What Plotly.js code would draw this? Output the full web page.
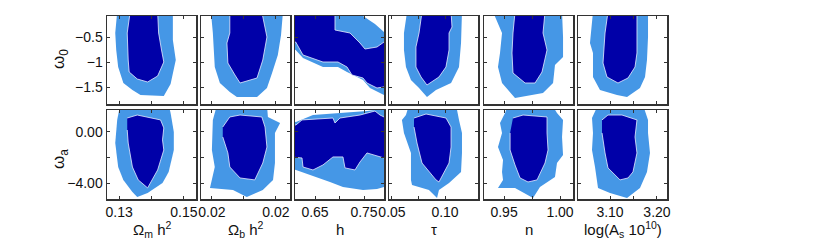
<!DOCTYPE html>
<html>
<head>
<meta charset="utf-8">
<script src="https://cdn.plot.ly/plotly-3.0.1.min.js"></script>
<style>html,body{margin:0;padding:0;background:#fff;}#chart{width:822px;height:252px;}</style>
</head>
<body>
<div id="chart"></div>
<script>
// ---------- axis labels & ticks ----------
const xTitles = ['Ω<sub>m</sub> h<sup>2</sup>', 'Ω<sub>b</sub> h<sup>2</sup>', 'h', 'τ', 'n', 'log(A<sub>s</sub> 10<sup>10</sup>)'];
const yTitles = ['ω<sub>0</sub>', 'ω<sub>a</sub>'];
const xRanges = [[0.12625, 0.15375], [0.02066, 0.02344], [0.6092, 0.7908], [0.0472, 0.1311], [0.9321, 1.0116], [3.0319, 3.2213]];
const xTickVals = [[0.13, 0.14, 0.15], [0.021, 0.022, 0.023], [0.65, 0.70, 0.75], [0.05, 0.075, 0.10], [0.95, 0.975, 1.00], [3.10, 3.15, 3.20]];
const xTickText = [['0.13', '', '0.15'], ['0.02', '', '0.02'], ['0.65', '', '0.75'], ['0.05', '', '0.10'], ['0.95', '', '1.00'], ['3.10', '', '3.20']];
const yRanges = [[-1.84, -0.08], [-5.22, 1.68]];
const yTickVals = [[-1.5, -1, -0.5], [-4, -2, 0]];
const yTickText = [['\u22121.5', '\u22121', '\u22120.5'], ['\u22124.00', '', '0.00']];

// ---------- 95% (outer) and 68% (inner) regions, row 1: omega_0 ----------
const omh2_w0_95_x = [0.1294,0.1288,0.1291,0.1297,0.1313,0.1341,0.1366,0.1438,0.1459,0.1469,0.1475,0.1466,0.1466];
const omh2_w0_95_y = [0.00,-0.42,-0.76,-1.10,-1.42,-1.56,-1.66,-1.68,-1.44,-1.16,-0.96,-0.56,0.00];
const omh2_w0_68_x = [0.1334,0.1325,0.1328,0.1331,0.1356,0.1388,0.1419,0.1438,0.1431,0.1422,0.1419];
const omh2_w0_68_y = [0.00,-0.42,-0.96,-1.20,-1.34,-1.40,-1.28,-1.00,-0.76,-0.42,0.00];

const obh2_w0_95_x = [0.02097,0.02103,0.02109,0.02125,0.02156,0.02178,0.02241,0.02272,0.02288,0.02306,0.02316,0.02322];
const obh2_w0_95_y = [0.00,-0.42,-1.10,-1.42,-1.60,-1.70,-1.70,-1.52,-1.22,-0.86,-0.46,0.00];
const obh2_w0_68_x = [0.02156,0.02156,0.02147,0.0215,0.02172,0.02188,0.02241,0.02259,0.02272,0.02266,0.02256];
const obh2_w0_68_y = [0.00,-0.42,-0.62,-1.02,-1.26,-1.42,-1.32,-0.96,-0.50,-0.30,0.00];

const h_w0_95_x = [0.599,0.599,0.6106,0.6255,0.6663,0.6969,0.7153,0.7480,0.7622,0.7908,0.8031,0.8031,0.7908,0.7724,0.7480,0.7418];
const h_w0_95_y = [0.04,-0.72,-0.76,-0.92,-1.10,-1.10,-1.20,-1.36,-1.52,-1.66,-1.70,-0.46,-0.40,-0.24,-0.08,0.04];
const h_w0_68_x = [0.599,0.599,0.6106,0.6255,0.6663,0.6969,0.7153,0.7255,0.7480,0.7561,0.7765,0.7908,0.8031,0.8031,0.7908,0.7765,0.7520,0.7418,0.7214,0.6908,0.6908];
const h_w0_68_y = [0.04,-0.60,-0.60,-0.86,-1.00,-1.00,-1.10,-1.26,-1.32,-1.42,-1.52,-1.50,-1.48,-0.56,-0.60,-0.70,-0.74,-0.62,-0.42,-0.36,0.04];

const tau_w0_95_x = [0.0642,0.0613,0.0613,0.0632,0.0679,0.0755,0.0830,0.0915,0.1057,0.1132,0.1151,0.1160];
const tau_w0_95_y = [0.00,-0.42,-0.76,-1.10,-1.36,-1.52,-1.70,-1.56,-1.42,-1.10,-0.62,0.00];
const tau_w0_68_x = [0.0783,0.0755,0.0726,0.0726,0.0774,0.0830,0.0943,0.1009,0.1038,0.1038,0.1066,0.1057];
const tau_w0_68_y = [0.00,-0.42,-0.70,-1.10,-1.30,-1.46,-1.30,-1.10,-0.76,-0.42,-0.30,0.00];

const n_w0_95_x = [0.9402,0.9482,0.9464,0.9446,0.9482,0.9554,0.9598,0.9848,0.9938,0.9955,1.0027,1.0027,1.0018];
const n_w0_95_y = [0.00,-0.42,-0.82,-1.10,-1.42,-1.62,-1.72,-1.62,-1.42,-1.06,-0.90,-0.50,0.00];
const n_w0_68_x = [0.9598,0.9580,0.9571,0.9580,0.9688,0.9777,0.9839,0.9884,0.9848,0.9866];
const n_w0_68_y = [0.00,-0.42,-0.82,-1.22,-1.42,-1.42,-1.20,-0.76,-0.42,0.00];

const as_w0_95_x = [3.0638,3.0574,3.0638,3.0638,3.0787,3.1149,3.1362,3.1638,3.1745,3.1787,3.1809,3.1809];
const as_w0_95_y = [0.00,-0.62,-0.82,-1.30,-1.56,-1.66,-1.70,-1.52,-1.30,-0.96,-0.50,0.00];
const as_w0_68_x = [3.0957,3.0894,3.0851,3.0936,3.1170,3.1383,3.1532,3.1574,3.1574,3.1574];
const as_w0_68_y = [0.00,-0.42,-1.02,-1.30,-1.42,-1.32,-1.10,-0.82,-0.42,0.00];

// ---------- row 2: omega_a ----------
const omh2_wa_95_x = [0.1303,0.1294,0.1288,0.1297,0.1313,0.1341,0.1356,0.1388,0.1434,0.1453,0.1469,0.1469,0.1459,0.1453];
const omh2_wa_95_y = [2.07,0.91,-0.88,-2.74,-3.74,-4.67,-5.06,-4.75,-3.98,-3.12,-1.42,-0.02,1.45,2.07];
const omh2_wa_68_x = [0.1325,0.1356,0.1428,0.1438,0.1434,0.1438,0.1419,0.1388,0.1359,0.1341,0.1328,0.1325];
const omh2_wa_68_y = [1.06,1.29,0.91,0.29,-0.64,-1.42,-2.97,-4.36,-3.74,-2.74,-0.88,0.13];

const obh2_wa_95_x = [0.02116,0.02103,0.02100,0.02109,0.02094,0.02166,0.02209,0.02259,0.02291,0.02297,0.02297,0.02313,0.02275,0.02272];
const obh2_wa_95_y = [2.07,0.91,-1.42,-2.74,-4.36,-4.52,-5.06,-4.52,-3.74,-2.43,-0.10,0.67,1.14,2.07];
const obh2_wa_68_x = [0.02134,0.02156,0.02188,0.02256,0.02266,0.02272,0.02259,0.02234,0.02188,0.02156,0.0215,0.02134];
const obh2_wa_68_y = [0.36,1.14,1.29,1.14,0.36,-1.19,-2.43,-3.74,-3.59,-2.74,-1.65,-0.41];

const h_wa_95_x = [0.599,0.6112,0.6459,0.7153,0.7561,0.7908,0.8031,0.8031,0.7908,0.7765,0.7480,0.7071,0.6806,0.6112,0.599];
const h_wa_95_y = [0.83,0.75,1.29,1.45,1.60,1.76,1.91,-4.29,-4.29,-4.44,-4.52,-4.29,-3.90,-2.97,-2.81];
const h_wa_68_x = [0.599,0.6112,0.6235,0.6867,0.6908,0.7010,0.7418,0.7724,0.7827,0.7908,0.8031,0.8031,0.7908,0.7561,0.7418,0.7316,0.7112,0.7071,0.6867,0.6663,0.6459,0.6255,0.6235,0.6112,0.599];
const h_wa_68_y = [0.52,0.52,0.91,1.06,0.67,1.06,1.29,1.60,1.29,1.14,1.14,-2.04,-2.04,-1.65,-2.35,-2.97,-2.81,-1.96,-1.96,-2.58,-2.97,-2.74,-2.04,-1.96,-1.96];

const tau_wa_95_x = [0.0660,0.0632,0.0594,0.0613,0.0679,0.0679,0.0689,0.0849,0.0925,0.0943,0.1038,0.1151,0.1160,0.1160,0.1132,0.1113,0.1104];
const tau_wa_95_y = [2.07,1.29,0.91,-0.10,-1.65,-3.74,-4.13,-4.52,-5.14,-4.52,-3.98,-3.12,-1.65,-0.10,0.91,1.53,2.07];
const tau_wa_68_x = [0.0708,0.0821,0.1009,0.1057,0.1057,0.1038,0.0943,0.0915,0.0783,0.0736,0.0708];
const tau_wa_68_y = [1.06,1.37,1.06,0.36,-1.19,-2.43,-3.90,-3.74,-2.43,-0.88,0.36];

const n_wa_95_x = [0.9536,0.9509,0.9464,0.9482,0.9446,0.9491,0.9482,0.9491,0.9446,0.9598,0.9759,0.9821,0.9955,0.9973,1.0027,1.0018,1.0027,0.9973,0.9929];
const n_wa_95_y = [2.07,1.45,0.67,-0.10,-1.19,-2.19,-3.12,-3.74,-4.36,-4.36,-5.14,-4.29,-3.51,-2.43,-1.81,-0.41,0.91,1.45,2.07];
const n_wa_68_x = [0.9580,0.9670,0.9884,0.9884,0.9893,0.9866,0.9795,0.9714,0.9643,0.9598,0.9554,0.9554];
const n_wa_68_y = [1.06,1.29,1.14,-0.10,-1.42,-2.43,-3.74,-3.90,-3.59,-2.58,-1.42,-0.10];

const as_wa_95_x = [3.0745,3.0617,3.0638,3.0617,3.0681,3.0745,3.1000,3.1362,3.1638,3.1787,3.1851,3.1809,3.1809,3.1702];
const as_wa_95_y = [2.07,1.06,-0.10,-1.42,-2.74,-4.36,-4.75,-5.14,-4.36,-3.12,-1.65,-0.10,0.91,2.07];
const as_wa_68_x = [3.0830,3.0957,3.1255,3.1574,3.1532,3.1574,3.1489,3.1383,3.1213,3.0957,3.0894,3.0830];
const as_wa_68_y = [0.91,1.29,1.29,0.91,-0.41,-1.65,-3.12,-3.59,-3.74,-2.81,-1.65,-0.10];

const regions = [
  [[omh2_w0_95_x, omh2_w0_95_y, omh2_w0_68_x, omh2_w0_68_y],
   [obh2_w0_95_x, obh2_w0_95_y, obh2_w0_68_x, obh2_w0_68_y],
   [h_w0_95_x, h_w0_95_y, h_w0_68_x, h_w0_68_y],
   [tau_w0_95_x, tau_w0_95_y, tau_w0_68_x, tau_w0_68_y],
   [n_w0_95_x, n_w0_95_y, n_w0_68_x, n_w0_68_y],
   [as_w0_95_x, as_w0_95_y, as_w0_68_x, as_w0_68_y]],
  [[omh2_wa_95_x, omh2_wa_95_y, omh2_wa_68_x, omh2_wa_68_y],
   [obh2_wa_95_x, obh2_wa_95_y, obh2_wa_68_x, obh2_wa_68_y],
   [h_wa_95_x, h_wa_95_y, h_wa_68_x, h_wa_68_y],
   [tau_wa_95_x, tau_wa_95_y, tau_wa_68_x, tau_wa_68_y],
   [n_wa_95_x, n_wa_95_y, n_wa_68_x, n_wa_68_y],
   [as_wa_95_x, as_wa_95_y, as_wa_68_x, as_wa_68_y]]
];

// ---------- layout geometry (pixels of the 822x252 figure) ----------
const W = 822, H = 252;
const panelLeft = [107, 201, 295, 389, 484, 578];
const panelW = 89;
const rowTop = [16, 110], rowBottom = [104, 199];
const LIGHT = '#4597e6', DARK = '#0000a8';
const FONT = 'Liberation Sans, Arial, Helvetica, sans-serif';

const traces = [];
const layout = {
  width: W, height: H,
  margin: {l: 0, r: 0, t: 0, b: 0},
  paper_bgcolor: '#fff', plot_bgcolor: '#fff',
  showlegend: false,
  font: {family: FONT, size: 14, color: '#111'},
  annotations: []
};

for (let r = 0; r < 2; r++) {
  for (let i = 0; i < 6; i++) {
    const k = r * 6 + i + 1;
    const xa = 'x' + (k === 1 ? '' : k), ya = 'y' + (k === 1 ? '' : k);
    const [ox, oy, ix, iy] = regions[r][i];
    traces.push({type: 'scatter', mode: 'lines', x: ox, y: oy, xaxis: xa, yaxis: ya,
      fill: 'toself', fillcolor: LIGHT, line: {width: 0, color: LIGHT}, hoverinfo: 'skip'});
    traces.push({type: 'scatter', mode: 'lines', x: ix, y: iy, xaxis: xa, yaxis: ya,
      fill: 'toself', fillcolor: DARK, line: {width: 0.8, color: '#e8eeff'}, hoverinfo: 'skip'});
    const common = {showline: true, mirror: 'ticks', linecolor: '#333', linewidth: 1.5,
      ticks: 'inside', ticklen: 3, tickcolor: '#333', tickwidth: 1,
      showgrid: false, zeroline: false, fixedrange: true,
      tickfont: {family: FONT, size: 14, color: '#111'}};
    layout['xaxis' + (k === 1 ? '' : k)] = Object.assign({}, common, {
      domain: [panelLeft[i] / W, (panelLeft[i] + panelW) / W],
      range: xRanges[i], anchor: ya,
      tickmode: 'array', tickvals: xTickVals[i], ticktext: xTickText[i],
      showticklabels: r === 1
    });
    layout['yaxis' + (k === 1 ? '' : k)] = Object.assign({}, common, {
      domain: [1 - rowBottom[r] / H, 1 - rowTop[r] / H],
      range: yRanges[r], anchor: xa,
      tickmode: 'array', tickvals: yTickVals[r], ticktext: yTickText[r],
      showticklabels: i === 0
    });
  }
}

// axis titles
for (let i = 0; i < 6; i++) {
  layout.annotations.push({xref: 'paper', yref: 'paper', showarrow: false,
    x: (panelLeft[i] + panelW / 2) / W, y: 1 - 229 / H, xanchor: 'center', yanchor: 'middle',
    text: xTitles[i], font: {family: FONT, size: 15, color: '#111'}});
}
const yTitleY = [59, 159];
for (let r = 0; r < 2; r++) {
  layout.annotations.push({xref: 'paper', yref: 'paper', showarrow: false,
    x: 60 / W, y: 1 - yTitleY[r] / H, xanchor: 'center', yanchor: 'middle', textangle: -90,
    text: yTitles[r], font: {family: FONT, size: 17, color: '#111'}});
}

Plotly.newPlot('chart', traces, layout, {staticPlot: true, displayModeBar: false});
</script>
</body>
</html>
